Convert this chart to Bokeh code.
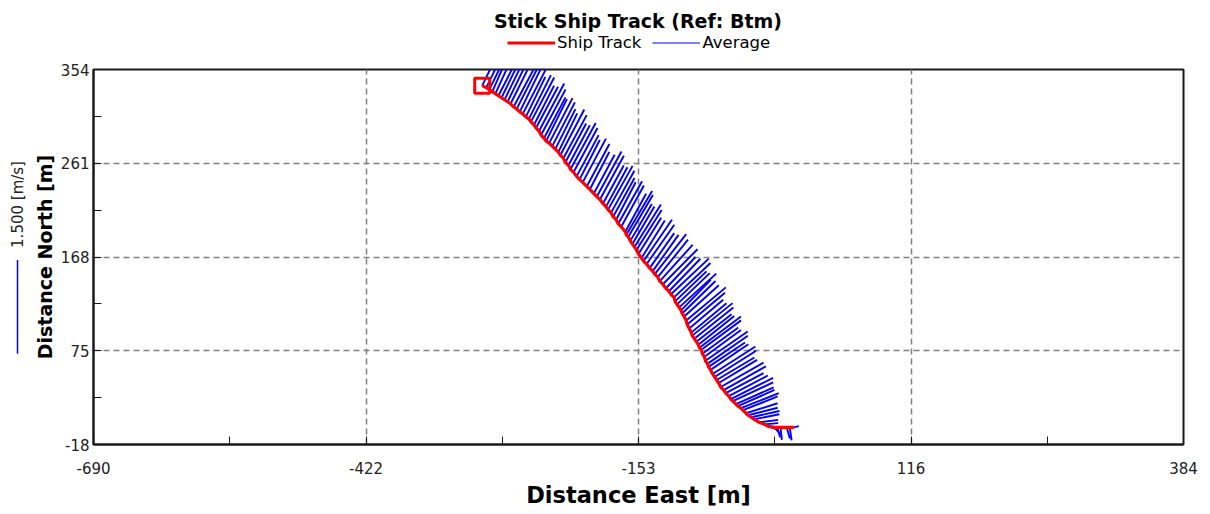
import numpy as np
from bokeh.plotting import figure
from bokeh.models import Range1d, FixedTicker, Legend, LegendItem
from bokeh.layouts import row, column
from bokeh.embed import file_html
from bokeh.resources import INLINE
from bokeh.core.properties import value

# ---------------- data ----------------
title_text = "Stick Ship Track (Ref: Btm)"
x_label = "Distance East [m]"
y_label = "Distance North [m]"
x_ticks = [-690, -421.5, -153, 115.5, 384]
x_tick_labels = ["-690", "-422", "-153", "116", "384"]
y_ticks = [-18, 75, 168, 261, 354]
y_tick_labels = ["-18", "75", "168", "261", "354"]
legend_labels = ["Ship Track", "Average"]

# ship track positions [m]
track_east = [-307, -303, -300, -297, -294, -291, -288, -285, -282, -279,
              -276, -273, -270, -267, -264, -261, -259, -256, -254, -251,
              -249, -246, -244, -241, -238, -235, -232, -230, -227, -225,
              -222, -220, -217, -214, -211, -208, -204, -201, -197, -194,
              -191, -188, -185, -183, -180, -178, -175, -173, -170, -166,
              -165, -163, -161, -159, -157, -155, -153, -150, -148, -145,
              -142, -139, -137, -134, -132, -129, -126, -123, -121, -118,
              -117, -115, -113, -111, -110, -108, -106, -105, -103, -101,
              -100, -98, -96, -94, -93, -91, -90, -88, -87, -85,
              -84, -82, -80, -78, -76, -74, -72, -69, -67, -64,
              -62, -60, -57, -55, -52, -50, -47, -45, -42, -39,
              -34, -29, -25, -19, -16, -13, -7, -4, 0]
track_north = [338, 336, 334, 332, 330, 328, 326, 324, 322, 320,
               317, 315, 312, 310, 307, 305, 302, 299, 296, 293,
               289, 286, 283, 281, 278, 275, 272, 269, 266, 262,
               259, 255, 252, 248, 245, 242, 238, 235, 231, 228,
               225, 221, 218, 215, 212, 208, 205, 201, 198, 193,
               190, 188, 184, 181, 178, 175, 171, 167, 164, 161,
               157, 154, 151, 148, 144, 141, 137, 134, 131, 128,
               124, 121, 118, 115, 112, 109, 105, 101, 97, 93,
               90, 87, 84, 81, 78, 76, 72, 69, 65, 62,
               59, 56, 52, 49, 46, 43, 39, 36, 33, 30,
               27, 25, 22, 20, 18, 16, 13, 11, 9, 7,
               4, 2, 0, -1, -1, -1, -1, -1, -1]
# depth-averaged water velocity [m/s]
vel_east = [0.30, 0.33, 0.34, 0.31, 0.30, 0.35, 0.36, 0.32, 0.33, 0.37,
            0.38, 0.33, 0.34, 0.38, 0.31, 0.35, 0.37, 0.32, 0.35, 0.40,
            0.39, 0.34, 0.33, 0.37, 0.36, 0.32, 0.30, 0.38, 0.37, 0.33,
            0.34, 0.40, 0.38, 0.35, 0.32, 0.37, 0.36, 0.31, 0.33, 0.39,
            0.38, 0.33, 0.34, 0.39, 0.37, 0.34, 0.31, 0.38, 0.36, 0.33,
            0.41, 0.39, 0.34, 0.35, 0.42, 0.40, 0.36, 0.37, 0.45, 0.44,
            0.39, 0.41, 0.50, 0.48, 0.52, 0.55, 0.47, 0.50, 0.60, 0.58,
            0.50, 0.52, 0.59, 0.47, 0.53, 0.55, 0.63, 0.60, 0.54, 0.56,
            0.64, 0.62, 0.56, 0.57, 0.66, 0.63, 0.57, 0.58, 0.67, 0.64,
            0.58, 0.60, 0.68, 0.66, 0.60, 0.61, 0.68, 0.67, 0.60, 0.62,
            0.67, 0.64, 0.60, 0.58, 0.60, 0.55, 0.50, 0.47, 0.45, 0.40,
            0.30, 0.22, 0.15, 0.10, 0.04, 0.02, 0.05, 0.03, 0.08]
vel_north = [0.62, 0.68, 0.70, 0.72, 0.66, 0.69, 0.74, 0.66, 0.68, 0.75,
             0.72, 0.65, 0.70, 0.74, 0.64, 0.70, 0.71, 0.63, 0.66, 0.76,
             0.73, 0.65, 0.67, 0.72, 0.70, 0.64, 0.62, 0.73, 0.69, 0.62,
             0.64, 0.74, 0.71, 0.66, 0.63, 0.70, 0.68, 0.60, 0.62, 0.72,
             0.70, 0.61, 0.63, 0.70, 0.67, 0.62, 0.60, 0.68, 0.66, 0.61,
             0.70, 0.67, 0.59, 0.60, 0.68, 0.64, 0.58, 0.60, 0.66, 0.63,
             0.56, 0.58, 0.64, 0.60, 0.58, 0.56, 0.50, 0.52, 0.57, 0.55,
             0.48, 0.50, 0.54, 0.49, 0.52, 0.50, 0.53, 0.51, 0.46, 0.47,
             0.52, 0.50, 0.44, 0.46, 0.50, 0.47, 0.42, 0.43, 0.47, 0.45,
             0.39, 0.41, 0.44, 0.42, 0.36, 0.37, 0.39, 0.38, 0.32, 0.33,
             0.34, 0.30, 0.27, 0.26, 0.24, 0.22, 0.16, 0.12, 0.10, 0.08,
             0.04, 0.02, -0.05, -0.12, -0.16, -0.20, -0.18, -0.21, 0.02]

start_east = [-307]
start_north = [338]

stick_scale = 62.0       # plot metres per 1 m/s
scale_speed = 1.5        # m/s shown by the scale bar
scale_label = "1.500 [m/s]"
scale_base = 72.0        # north position of scale bar bottom

# ---------------- layout constants (pixels) ----------------
FONT = "DejaVu Sans"
SB_W = 30          # scale-bar strip width
LEFT = 62
RIGHT = 19
FRAME_W = 1091
TOP = 10
BOT = 65
FRAME_H = 376
HEAD_H = 59
W = LEFT + FRAME_W + RIGHT
H = TOP + FRAME_H + BOT
RED = "#ff0000"
BLUE = "#0000ff"
STICK_W = 1.9

te = np.array(track_east, dtype=float)
tn = np.array(track_north, dtype=float)
ve = np.array(vel_east)
vn = np.array(vel_north)

xr = Range1d(-690, 384)
yr = Range1d(-18, 354)

# ---------------- header: title + legend ----------------
head = figure(width=SB_W + W, height=HEAD_H, x_range=Range1d(0, SB_W + W),
              y_range=Range1d(0, HEAD_H), output_backend="svg", toolbar_location=None,
              min_border=0, x_axis_location=None, y_axis_location=None)
head.outline_line_color = None
head.background_fill_color = "white"
head.border_fill_color = "white"
head.grid.grid_line_color = None
head.text(x=[SB_W + LEFT + FRAME_W / 2], y=[HEAD_H - 20], text=[title_text],
          text_align="center", text_baseline="middle", text_font=value(FONT),
          text_font_size="19px", text_font_style="bold", text_color="black")
# legend proxies (no visible data; only their line styles are used by the legend)
lg_track = head.line(x=[np.nan, np.nan], y=[np.nan, np.nan], line_color=RED, line_width=3)
lg_stick = head.line(x=[np.nan, np.nan], y=[np.nan, np.nan], line_color=BLUE, line_width=1.2)
legend = Legend(items=[LegendItem(label=legend_labels[0], renderers=[lg_track]),
                       LegendItem(label=legend_labels[1], renderers=[lg_stick])],
                orientation="horizontal", location=(507, HEAD_H - 52),
                glyph_width=48, glyph_height=15, label_height=15,
                label_standoff=2, spacing=11, padding=0, margin=0,
                border_line_color=None, background_fill_alpha=0,
                label_text_font=FONT, label_text_font_size="16.5px",
                label_text_color="black")
head.add_layout(legend)

# ---------------- main plot ----------------
p = figure(width=W, height=H, x_range=xr, y_range=yr,
           output_backend="svg", toolbar_location=None,
           min_border_left=LEFT, min_border_right=RIGHT,
           min_border_top=TOP, min_border_bottom=BOT)
p.background_fill_color = "white"
p.border_fill_color = "white"
p.outline_line_color = "#1a1a1a"
p.outline_line_width = 2

p.segment(x0=te, y0=tn, x1=te + ve * stick_scale, y1=tn + vn * stick_scale,
          line_color=BLUE, line_width=STICK_W)
p.line(te, tn, line_color=RED, line_width=3.2)
p.scatter(start_east, start_north, marker="square", size=15,
          line_color=RED, line_width=3, fill_color=None)

x_minor = [(a + b) / 2 for a, b in zip(x_ticks[:-1], x_ticks[1:])]
y_minor = [(a + b) / 2 for a, b in zip(y_ticks[:-1], y_ticks[1:])]

p.xaxis.ticker = FixedTicker(ticks=x_ticks, minor_ticks=x_minor)
p.yaxis.ticker = FixedTicker(ticks=y_ticks, minor_ticks=y_minor)
p.xaxis.major_label_overrides = {t: l for t, l in zip(x_ticks, x_tick_labels)}
p.yaxis.major_label_overrides = {t: l for t, l in zip(y_ticks, y_tick_labels)}
p.xgrid.ticker = FixedTicker(ticks=x_ticks)
p.ygrid.ticker = FixedTicker(ticks=y_ticks)
p.grid.grid_line_color = "#808080"
p.grid.grid_line_dash = "6 4"
p.grid.grid_line_width = 1.5

for ax in (p.xaxis, p.yaxis):
    ax.axis_line_color = "#1a1a1a"
    ax.axis_line_width = 2
    ax.major_tick_in = 8
    ax.major_tick_out = 0
    ax.minor_tick_in = 8
    ax.minor_tick_out = 0
    ax.major_tick_line_color = "#1a1a1a"
    ax.minor_tick_line_color = "#1a1a1a"
    ax.major_label_text_font = FONT
    ax.major_label_text_font_size = "15px"
    ax.major_label_text_color = "#222222"
    ax.axis_label_text_font = FONT
    ax.axis_label_text_font_style = "bold"
    ax.axis_label_text_color = "black"

p.xaxis.axis_label = x_label
p.xaxis.axis_label_text_font_size = "22.5px"
p.xaxis.major_label_standoff = 17
p.xaxis.axis_label_standoff = 5
p.yaxis.axis_label = y_label
p.yaxis.axis_label_text_font_size = "19px"
p.yaxis.major_label_standoff = 4
p.yaxis.axis_label_standoff = 2

# ---------------- scale bar strip ----------------
sb = figure(width=SB_W, height=H, x_range=Range1d(0, 1), y_range=yr,
            output_backend="svg", toolbar_location=None,
            min_border_left=0, min_border_right=0,
            min_border_top=TOP, min_border_bottom=BOT,
            x_axis_location=None, y_axis_location=None)
sb.outline_line_color = None
sb.background_fill_color = "white"
sb.border_fill_color = "white"
sb.grid.grid_line_color = None
sb.segment(x0=[0.567], y0=[scale_base], x1=[0.567], y1=[scale_base + scale_speed * stick_scale],
           line_color=BLUE, line_width=1.5)
sb.text(x=[0.567], y=[scale_base + scale_speed * stick_scale + 12], text=[scale_label],
        angle=np.pi / 2, text_align="left", text_baseline="middle",
        text_font=value(FONT), text_font_size="15px", text_color="#222222")

layout = column(head, row(sb, p))
open("out.html", "w").write(file_html(layout, INLINE))
